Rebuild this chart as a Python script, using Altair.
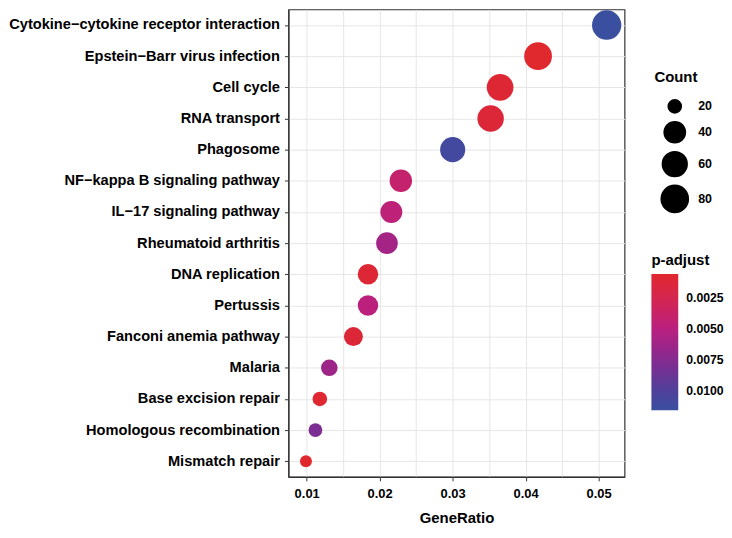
import altair as alt
import pandas as pd

categories = [
    "Cytokine−cytokine receptor interaction",
    "Epstein−Barr virus infection",
    "Cell cycle",
    "RNA transport",
    "Phagosome",
    "NF−kappa B signaling pathway",
    "IL−17 signaling pathway",
    "Rheumatoid arthritis",
    "DNA replication",
    "Pertussis",
    "Fanconi anemia pathway",
    "Malaria",
    "Base excision repair",
    "Homologous recombination",
    "Mismatch repair",
]
gene_ratio = [0.0511, 0.0417, 0.0365, 0.0352, 0.0300, 0.0229, 0.0216, 0.0210,
              0.0184, 0.0184, 0.0164, 0.0131, 0.0118, 0.0112, 0.0099]
counts = [88, 72, 63, 61, 52, 39, 37, 36, 32, 32, 28, 23, 20, 19, 17]
p_adjust = [0.0116, 0.0006, 0.0009, 0.0012, 0.0110, 0.0040, 0.0046, 0.0060,
            0.0010, 0.0048, 0.0012, 0.0063, 0.0008, 0.0079, 0.0005]

x_ticks = [0.01, 0.015, 0.02, 0.025, 0.03, 0.035, 0.04, 0.045, 0.05]
count_legend = [20, 40, 60, 80]
p_legend = [0.0025, 0.005, 0.0075, 0.01]

# colour ramp (high p -> low p)
ramp_values = [0.0116, 0.0100, 0.0075, 0.0050, 0.0025, 0.0005]
ramp_colors = ["#3A4FA0", "#50409A", "#842A90", "#B92080", "#D4254F", "#E1282D"]

df = pd.DataFrame({
    "Description": categories,
    "GeneRatio": gene_ratio,
    "Count": counts,
    "padj": p_adjust,
})

FONT = "Liberation Sans"

chart = alt.Chart(df).mark_circle(opacity=1, strokeWidth=0).encode(
    x=alt.X(
        "GeneRatio:Q",
        scale=alt.Scale(domain=[0.0075, 0.05355], nice=False, zero=False),
        axis=alt.Axis(
            title="GeneRatio",
            values=x_ticks,
            labelExpr="(round(datum.value*1000) % 10 == 0) ? format(datum.value, '.2f') : ''",
            tickOpacity={"expr": "(round(datum.value*1000) % 10 == 0) ? 1 : 0"},
            labelFontSize=13,
            titleFontSize=15,
            titlePadding=10,
            labelPadding=7,
            tickSize=4,
        ),
    ),
    y=alt.Y(
        "Description:N",
        sort=categories,
        scale=alt.Scale(type="point", padding=0.5),
        axis=alt.Axis(title=None, labelFontSize=14.7, labelPadding=5, tickSize=4,
                      labelLimit=0, grid=True),
    ),
    size=alt.Size(
        "Count:Q",
        scale=alt.Scale(type="log", domain=[17, 88], range=[144, 870], nice=False),
        legend=alt.Legend(
            title="Count",
            values=count_legend,
            orient="none",
            legendX=368,
            legendY=61,
            symbolFillColor="black",
            symbolStrokeColor="black",
            symbolStrokeWidth=0,
            symbolOpacity=1,
            symbolOffset=6,
            labelOffset=9,
            rowPadding=7,
            titlePadding=14,
        ),
    ),
    color=alt.Color(
        "padj:Q",
        scale=alt.Scale(
            domain=ramp_values, nice=False, zero=False,
            range=ramp_colors, interpolate="rgb",
        ),
        legend=alt.Legend(
            title="p-adjust",
            values=p_legend,
            format=".4f",
            orient="none",
            legendX=365,
            legendY=245,
            direction="vertical",
            gradientLength=137,
            gradientThickness=27,
            labelOffset=8,
            labelFontSize=12.3,
            titlePadding=6,
        ),
    ),
).properties(
    width=338,
    height=470,
    padding={"left": 0, "top": 0, "right": 0, "bottom": 0},
).configure_view(
    stroke="#333333", strokeWidth=1.2,
).configure_axis(
    labelFont=FONT,
    labelFontWeight="bold",
    labelColor="black",
    titleFont=FONT,
    titleFontWeight="bold",
    titleColor="black",
    gridColor="#E6E6E6",
    gridWidth=1,
    domainColor="#333333",
    domainWidth=1.2,
    tickColor="#333333",
).configure_legend(
    titleFont=FONT,
    titleFontWeight="bold",
    titleFontSize=15,
    titleColor="black",
    labelFont=FONT,
    labelFontWeight="bold",
    labelFontSize=12.5,
    labelColor="black",
)

chart.save("out.html", embed_options={"renderer": "svg", "actions": False})
